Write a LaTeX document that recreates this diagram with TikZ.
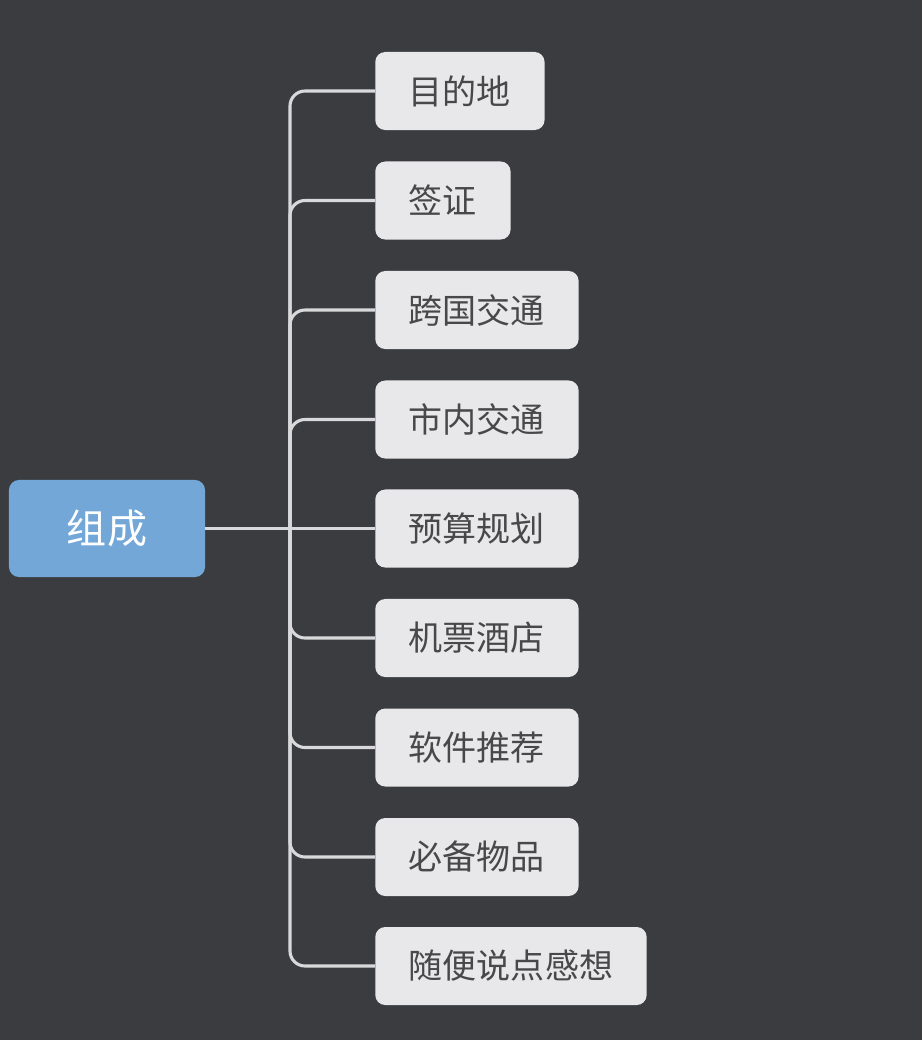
\documentclass[tikz,border=0pt]{standalone}
\usepackage{fontspec}
\setmainfont{Noto Sans CJK SC}
\usetikzlibrary{positioning}
\definecolor{bgdark}{HTML}{3B3C40}
\definecolor{rootblue}{HTML}{72A7D7}
\definecolor{leafgray}{HTML}{E8E8EA}
\definecolor{leaftext}{HTML}{48484A}
\definecolor{linkgray}{HTML}{D9D9DB}
\tikzset{
    %Define style for the centre box
    rootbox/.style={
           rectangle,
           rounded corners=0.25cm,
           fill=rootblue,
           text=white,
           font=\fontsize{28.5}{32}\selectfont,
           minimum width=4.9cm,
           minimum height=2.425cm,
           text centered},
    %Define style for the topic boxes
    leafbox/.style={
           rectangle,
           rounded corners=0.25cm,
           fill=leafgray,
           text=leaftext,
           font=\fontsize{24.2}{28}\selectfont,
           inner xsep=0.84cm,
           minimum height=1.95cm,
           anchor=west},
    % Define link style
    link/.style={
           draw=linkgray,
           line width=2.2pt,
           rounded corners=0.375cm}
}
\begin{document}
\begin{tikzpicture}[x=0.025cm,y=-0.025cm]
\useasboundingbox[fill=bgdark] (0,0) rectangle (922,1040);
 %nodes
\node[rootbox](root) at (107,528.5){组成};
\coordinate (hub) at (290,528.5);
\foreach \i/\y/\t in {1/91/目的地,2/200.5/签证,3/310/跨国交通,4/419.5/市内交通,5/528.5/预算规划,6/638/机票酒店,7/747.5/软件推荐,8/857/必备物品,9/966/随便说点感想}
    \node[leafbox](c\i) at (375,\y){\t};

 %links
\draw[link] (root.east) -- (hub);
\foreach \i in {1,2,3,4,6,7,8,9}
    \draw[link] (hub) |- (c\i.west);
\draw[link] (hub) -- (c5.west);
\end{tikzpicture}
\end{document}
